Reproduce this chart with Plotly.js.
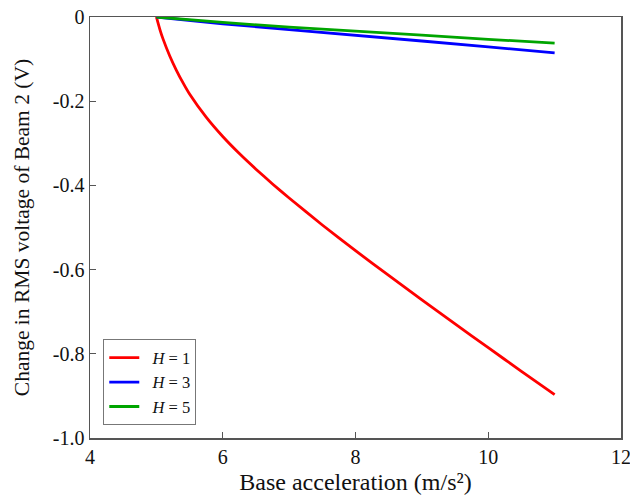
<!DOCTYPE html>
<html>
<head>
<meta charset="utf-8">
<script src="https://cdn.plot.ly/plotly-3.0.1.min.js"></script>
<style>html,body{margin:0;padding:0;background:#fff;}#chart{width:630px;height:497px;}</style>
</head>
<body>
<div id="chart"></div>
<script>
// Data
const xH1 = [5.0, 5.05, 5.1, 5.2, 5.3, 5.4, 5.5, 5.75, 6.0, 6.25, 6.5, 6.75, 7.0, 7.5, 8.0, 8.5, 9.0, 9.5, 10.0, 10.5, 11.0];
const yH1 = [0, -0.028, -0.052, -0.092, -0.126, -0.156, -0.183, -0.238, -0.284, -0.3245, -0.3615, -0.3965, -0.430, -0.494, -0.555, -0.614, -0.672, -0.729, -0.7855, -0.8415, -0.897];
const xH3 = [5, 6, 7, 8, 9, 10, 11];
const yH3 = [0, -0.016, -0.030, -0.043, -0.057, -0.071, -0.085];
const xH5 = [5, 6, 7, 8, 9, 10, 11];
const yH5 = [0, -0.013, -0.024, -0.033, -0.043, -0.053, -0.062];
const seriesNames = ['\u00a0\u00a0<i>H</i> = 1', '\u00a0\u00a0<i>H</i> = 3', '\u00a0\u00a0<i>H</i> = 5'];
const xTickVals = [4, 6, 8, 10, 12];
const xTickText = ['4', '6', '8', '10', '12'];
const yTickVals = [0, -0.2, -0.4, -0.6, -0.8, -1.0];
const yTickText = ['0', '-0.2', '-0.4', '-0.6', '-0.8', '-1.0'];

const FONT = '"Liberation Serif", "Times New Roman", serif';
const traces = [
  {x: xH1, y: yH1, name: seriesNames[0], mode: 'lines', line: {color: '#ff0000', width: 2.8, shape: 'spline', smoothing: 0.5}},
  {x: xH3, y: yH3, name: seriesNames[1], mode: 'lines', line: {color: '#0000ff', width: 2.8}},
  {x: xH5, y: yH5, name: seriesNames[2], mode: 'lines', line: {color: '#00a500', width: 2.8}}
];
const axisCommon = {
  showline: true, mirror: true, linecolor: '#555', linewidth: 1.5,
  ticks: 'inside', ticklen: 6, tickwidth: 1.2, tickcolor: '#555',
  showgrid: false, zeroline: false,
  tickfont: {family: FONT, size: 20, color: '#111'},
  tickmode: 'array', ticklabeloverflow: 'allow'
};
const layout = {
  width: 630, height: 497,
  margin: {l: 90, r: 9, t: 17, b: 59},
  paper_bgcolor: '#fff', plot_bgcolor: '#fff',
  showlegend: true,
  font: {family: FONT, color: '#111'},
  xaxis: Object.assign({}, axisCommon, {
    range: [4, 12], tickvals: xTickVals, ticktext: xTickText,
    title: {text: 'Base acceleration (m/s²)', font: {family: FONT, size: 24, color: '#111'}, standoff: 6}
  }),
  yaxis: Object.assign({}, axisCommon, {
    range: [-1.0, 0], tickvals: yTickVals, ticktext: yTickText,
    title: {text: 'Change in RMS voltage of Beam 2 (V)', font: {family: FONT, size: 21.5, color: '#111'}, standoff: 17}
  }),
  legend: {
    x: 0.025, y: 0.03, xanchor: 'left', yanchor: 'bottom',
    bordercolor: '#777', borderwidth: 1, bgcolor: '#fff',
    font: {family: FONT, size: 16.5, color: '#111'},
    tracegroupgap: 0
  }
};
Plotly.newPlot('chart', traces, layout, {staticPlot: true, displayModeBar: false});
</script>
</body>
</html>
